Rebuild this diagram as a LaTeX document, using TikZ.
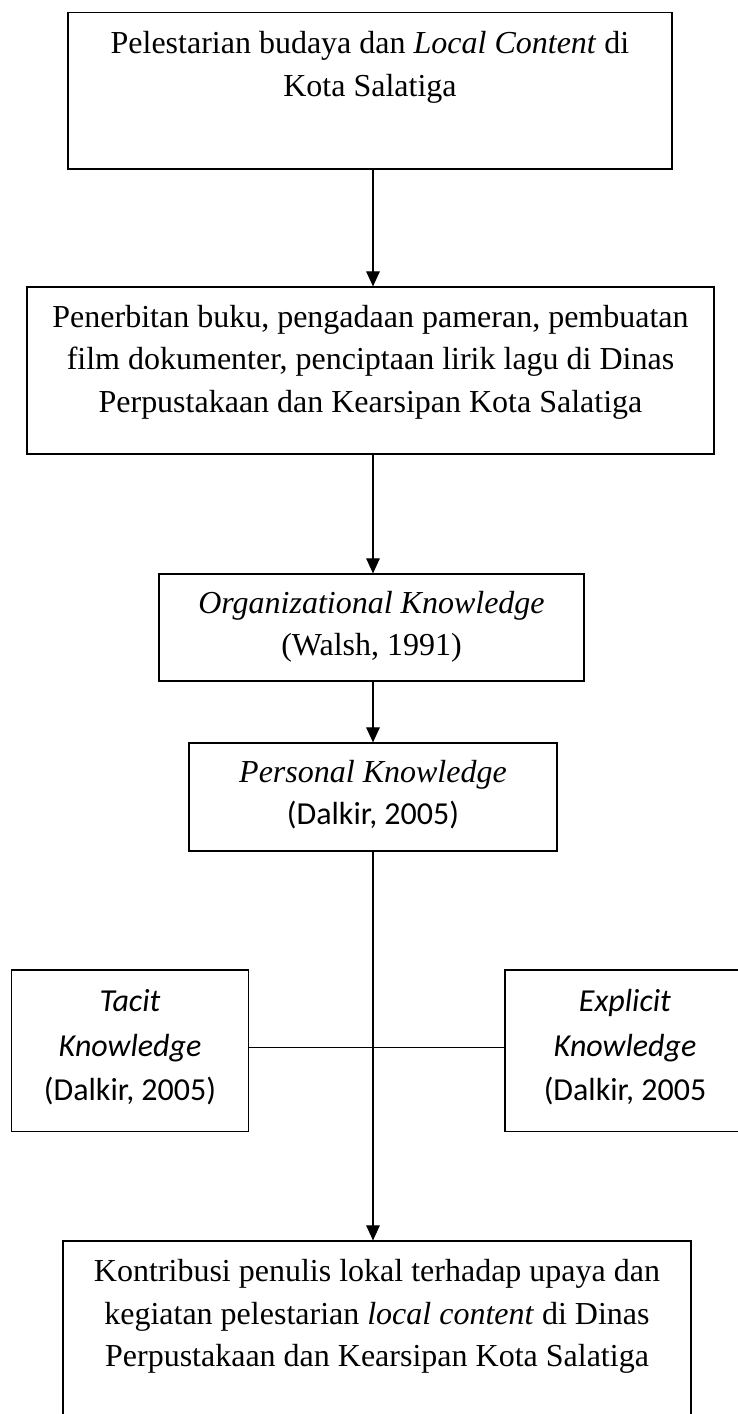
\documentclass[tikz,border=0pt]{standalone}
\usepackage{fontspec}
\setmainfont{Liberation Serif}
\newfontfamily\calfont{Carlito}
\usetikzlibrary{arrows.meta}
\begin{document}
\begin{tikzpicture}[x=1pt,y=-1pt,
  boxnode/.style={draw=black, line width=1.2pt, rectangle, inner sep=0pt, fill=none},
  txt/.style={anchor=north, inner sep=0pt, align=center, font=\fontsize{32}{42.5}\selectfont},
  caltxt/.style={anchor=north, inner sep=0pt, align=center, font=\calfont\fontsize{32}{44.2}\selectfont},
  arr/.style={line width=1.1pt, -{Triangle[length=15pt,width=13.5pt]}},
  conn/.style={line width=1.1pt}]
\clip (0,0) rectangle (738,1414);
\fill[white] (0,0) rectangle (738,1414);
% boxes
\node[boxnode, minimum width=604pt, minimum height=156.5pt] (b1) at (370,90.75) {};
\node[boxnode, minimum width=687pt, minimum height=167pt] (b2) at (370.5,370.5) {};
\node[boxnode, minimum width=425pt, minimum height=107pt] (b3) at (371.5,627.5) {};
\node[boxnode, minimum width=368pt, minimum height=108pt] (b4) at (373,797) {};
\node[boxnode, minimum width=236.5pt, minimum height=161.5pt] (b5) at (130,1050.75) {};
\node[boxnode, minimum width=240pt, minimum height=161.5pt] (b6) at (625,1050.75) {};
\node[boxnode, minimum width=628pt, minimum height=200pt] (b7) at (377,1341) {};
% texts
\node[txt] (t1) at (370,23.75) {\strut Pelestarian budaya dan \textit{Local Content} di\\Kota Salatiga};
\node[txt] (t2) at (370.5,297.25) {\strut Penerbitan buku, pengadaan pameran, pembuatan\\film dokumenter, penciptaan lirik lagu di Dinas\\Perpustakaan dan Kearsipan Kota Salatiga};
\node[txt] (t3) at (371.5,583.25) {\strut\textit{Organizational Knowledge}\\(Walsh, 1991)};
\node[txt] (t4) at (373,752.25) {\strut\textit{Personal Knowledge}\\{\calfont (Dalkir, 2005)}};
\node[caltxt] (t5) at (130,980.76) {\strut\textit{Tacit}\\\textit{Knowledge}\\(Dalkir, 2005)};
\node[caltxt] (t6) at (625,980.76) {\strut\textit{Explicit}\\\textit{Knowledge}\\(Dalkir, 2005};
\node[txt] (t7) at (377,1251.95) {\strut Kontribusi penulis lokal terhadap upaya dan\\kegiatan pelestarian \textit{local content} di Dinas\\Perpustakaan dan Kearsipan Kota Salatiga};
% connectors
\coordinate (ax) at (373,0);
\coordinate (hy) at (0,1047.5);
\draw[arr] (b1.south -| ax) -- (b2.north -| ax);
\draw[arr] (b2.south -| ax) -- (b3.north -| ax);
\draw[arr] (b3.south -| ax) -- (b4.north -| ax);
\draw[arr] (b4.south -| ax) -- (b7.north -| ax);
\draw[conn] (b5.east |- hy) -- (b6.west |- hy);
\end{tikzpicture}
\end{document}
